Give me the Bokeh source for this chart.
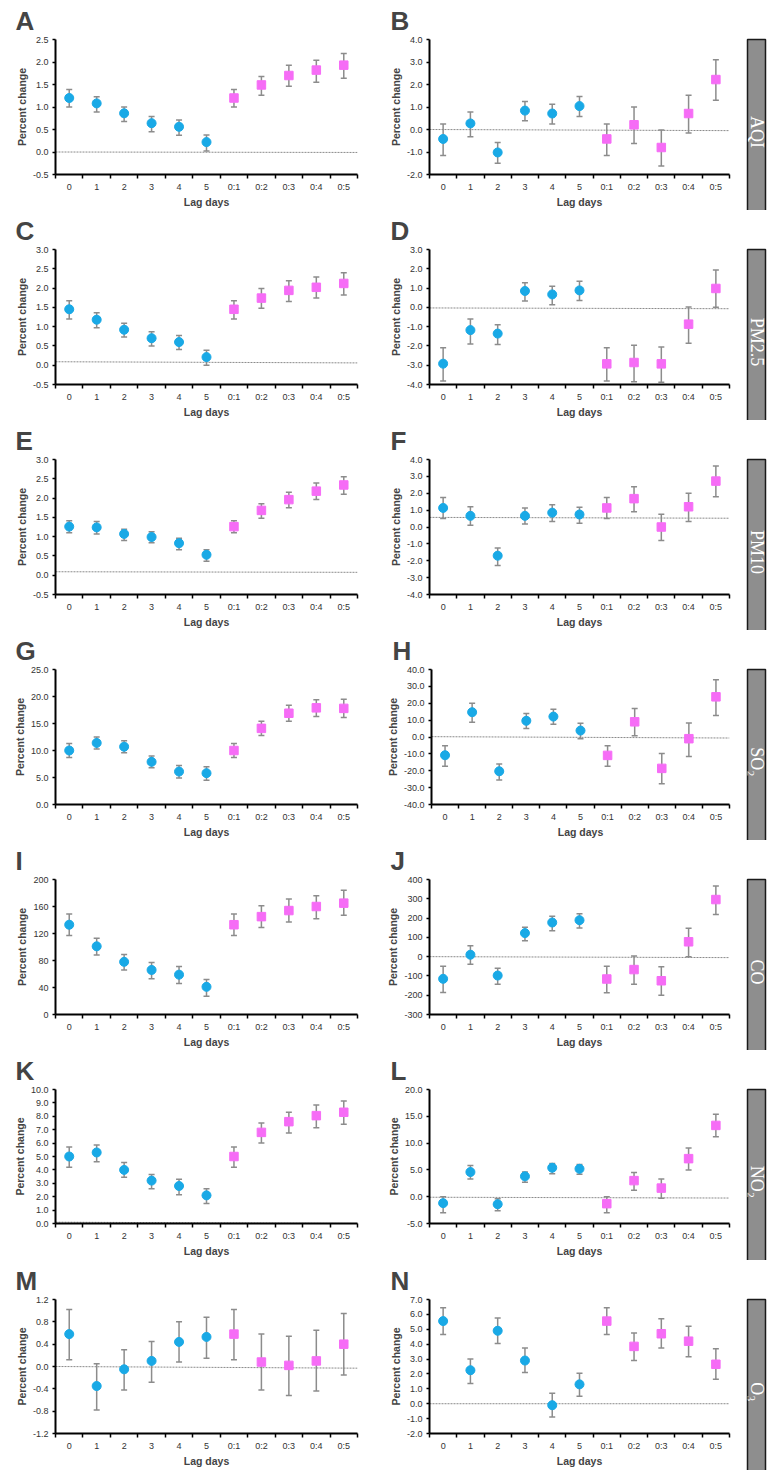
import numpy as np
from bokeh.plotting import figure
from bokeh.models import (ColumnDataSource, Whisker, TeeHead, FixedTicker, Range1d, Label,
                          NumeralTickFormatter, BoxAnnotation)
from bokeh.layouts import row, column
from bokeh.embed import file_html
from bokeh.resources import INLINE

# ---------------- data ----------------
lag_labels = ["0", "1", "2", "3", "4", "5", "0:1", "0:2", "0:3", "0:4", "0:5"]
n_single = 6  # single-day lags (blue circles); the rest are cumulative (pink squares)
panel_letters = ["A", "B", "C", "D", "E", "F", "G", "H", "I", "J", "K", "L", "M", "N"]
pollutants = ["AQI", "PM2.5", "PM10", "SO\u2082", "CO", "NO\u2082", "O\u2083"]

a_est = [1.20, 1.08, 0.86, 0.64, 0.56, 0.22, 1.20, 1.49, 1.70, 1.82, 1.93]
a_lo = [1.00, 0.89, 0.68, 0.45, 0.37, 0.02, 1.00, 1.26, 1.46, 1.55, 1.64]
a_hi = [1.39, 1.23, 1.00, 0.79, 0.71, 0.38, 1.39, 1.68, 1.93, 2.04, 2.19]

b_est = [-0.42, 0.27, -1.02, 0.84, 0.71, 1.04, -0.42, 0.21, -0.80, 0.71, 2.22]
b_lo = [-1.15, -0.32, -1.50, 0.39, 0.25, 0.58, -1.15, -0.62, -1.62, -0.15, 1.30]
b_hi = [0.25, 0.78, -0.58, 1.25, 1.12, 1.47, 0.25, 1.00, -0.02, 1.52, 3.10]

c_est = [1.45, 1.18, 0.92, 0.70, 0.60, 0.21, 1.45, 1.74, 1.94, 2.02, 2.12]
c_lo = [1.20, 0.97, 0.73, 0.50, 0.41, 0.00, 1.20, 1.48, 1.65, 1.74, 1.82]
c_hi = [1.67, 1.36, 1.09, 0.87, 0.77, 0.39, 1.67, 1.99, 2.19, 2.29, 2.40]

d_est = [-2.92, -1.18, -1.36, 0.85, 0.67, 0.88, -2.93, -2.86, -2.93, -0.87, 0.98]
d_lo = [-3.82, -1.90, -1.92, 0.33, 0.14, 0.36, -3.82, -3.86, -3.88, -1.86, 0.00]
d_hi = [-2.10, -0.60, -0.90, 1.28, 1.10, 1.35, -2.10, -1.96, -2.05, 0.02, 1.94]

e_est = [1.26, 1.24, 1.07, 0.99, 0.83, 0.53, 1.26, 1.68, 1.96, 2.18, 2.34]
e_lo = [1.10, 1.07, 0.90, 0.84, 0.66, 0.36, 1.10, 1.48, 1.75, 1.96, 2.10]
e_hi = [1.41, 1.39, 1.19, 1.13, 0.96, 0.66, 1.41, 1.85, 2.15, 2.39, 2.55]

f_est = [1.13, 0.66, -1.70, 0.66, 0.85, 0.74, 1.13, 1.68, 0.00, 1.20, 2.72]
f_lo = [0.50, 0.10, -2.28, 0.18, 0.32, 0.22, 0.50, 0.90, -0.80, 0.32, 1.80]
f_hi = [1.75, 1.20, -1.25, 1.12, 1.32, 1.17, 1.75, 2.38, 0.76, 2.00, 3.62]

g_est = [10.0, 11.4, 10.7, 7.9, 6.1, 5.8, 10.0, 14.1, 16.9, 17.9, 17.8]
g_lo = [8.7, 10.3, 9.6, 6.8, 4.9, 4.5, 8.7, 12.8, 15.4, 16.3, 16.1]
g_hi = [11.3, 12.5, 11.8, 9.0, 7.2, 7.0, 11.3, 15.4, 18.4, 19.4, 19.5]

h_est = [-10.8, 14.7, -20.3, 9.6, 12.1, 3.8, -10.9, 9.0, -18.6, -1.0, 23.8]
h_lo = [-17.3, 8.7, -25.5, 5.0, 7.6, -1.0, -17.3, 0.8, -27.7, -11.5, 12.7]
h_hi = [-5.2, 20.0, -16.0, 14.0, 16.4, 8.1, -5.2, 16.9, -9.8, 8.3, 34.0]

i_est = [133, 101, 78, 66, 59, 41, 133, 145, 154, 160, 165]
i_lo = [117, 88, 66, 53, 46, 27, 117, 129, 137, 142, 147]
i_hi = [149, 113, 89, 77, 71, 52, 149, 161, 171, 176, 184]

j_est = [-115, 10, -98, 122, 177, 189, -116, -67, -125, 77, 296]
j_lo = [-186, -40, -143, 82, 134, 149, -187, -143, -200, 0, 218]
j_hi = [-50, 57, -60, 152, 210, 222, -50, 3, -52, 147, 366]

k_est = [5.0, 5.3, 4.0, 3.2, 2.8, 2.1, 5.0, 6.8, 7.6, 8.05, 8.3]
k_lo = [4.2, 4.6, 3.45, 2.6, 2.15, 1.5, 4.2, 6.0, 6.75, 7.15, 7.4]
k_hi = [5.7, 5.85, 4.55, 3.65, 3.3, 2.6, 5.7, 7.5, 8.3, 8.85, 9.15]

l_est = [-1.2, 4.6, -1.4, 3.8, 5.4, 5.2, -1.3, 3.0, 1.6, 7.1, 13.3]
l_lo = [-3.0, 3.3, -2.6, 2.7, 4.3, 4.2, -3.0, 1.2, -0.3, 5.0, 11.2]
l_hi = [0.0, 5.8, -0.4, 4.6, 6.2, 6.0, 0.0, 4.5, 3.3, 9.1, 15.4]

m_est = [0.58, -0.35, -0.05, 0.10, 0.44, 0.53, 0.58, 0.08, 0.02, 0.10, 0.40]
m_lo = [0.12, -0.78, -0.42, -0.28, 0.08, 0.15, 0.12, -0.42, -0.52, -0.44, -0.15]
m_hi = [1.02, 0.05, 0.30, 0.45, 0.80, 0.88, 1.02, 0.58, 0.54, 0.65, 0.95]

n_est = [5.55, 2.25, 4.90, 2.90, -0.10, 1.30, 5.55, 3.85, 4.70, 4.20, 2.65]
n_lo = [4.65, 1.35, 4.05, 2.10, -0.90, 0.50, 4.65, 2.90, 3.75, 3.15, 1.65]
n_hi = [6.45, 3.00, 5.75, 3.75, 0.70, 2.05, 6.45, 4.75, 5.70, 5.20, 3.70]

# y-axis: (min, max, step, tick format)
y_axes = [
    (-0.5, 2.5, 0.5, "0.0"), (-2.0, 4.0, 1.0, "0.0"),
    (-0.5, 3.0, 0.5, "0.0"), (-4.0, 3.0, 1.0, "0.0"),
    (-0.5, 3.0, 0.5, "0.0"), (-4.0, 4.0, 1.0, "0.0"),
    (0.0, 25.0, 5.0, "0.0"), (-40.0, 40.0, 10.0, "0.0"),
    (0, 200, 40, "0"), (-300, 400, 100, "0"),
    (0.0, 10.0, 1.0, "0.0"), (-5.0, 20.0, 5.0, "0.0"),
    (-1.2, 1.2, 0.4, "0.0"), (-2.0, 7.0, 1.0, "0.0"),
]
# dashed reference line level at left and right end of each panel
ref_left = [0.0, 0.0, 0.09, -0.03, 0.09, 0.57, 0.0, 0.2, 0.0, 0.0, 0.1, -0.1, 0.0, 0.0]
ref_right = [-0.01, -0.05, 0.06, -0.07, 0.075, 0.52, 0.0, -0.6, 0.0, -5.0, 0.0, -0.25, -0.03, 0.0]

estimates = [a_est, b_est, c_est, d_est, e_est, f_est, g_est, h_est, i_est, j_est, k_est, l_est, m_est, n_est]
lows = [a_lo, b_lo, c_lo, d_lo, e_lo, f_lo, g_lo, h_lo, i_lo, j_lo, k_lo, l_lo, m_lo, n_lo]
highs = [a_hi, b_hi, c_hi, d_hi, e_hi, f_hi, g_hi, h_hi, i_hi, j_hi, k_hi, l_hi, m_hi, n_hi]

# ---------------- layout / styling ----------------
BLUE = "#19a9e6"
PINK = "#f66cf6"
ERR = "#8c8c8c"
FONT = "Liberation Sans"
ROW_H = 210
FRAME_H = 138
row_frame_top = [38, 38, 37, 36, 36, 35, 35]


def make_panel(idx, left_col, top):
    ymin, ymax, step, fmt = y_axes[idx]
    n = len(lag_labels)
    if left_col:
        w, bl, br = 383, 55, 26
        letter_x = 15
        box = (6, 362)
    else:
        w, bl, br = 362, 46, 16
        letter_x = 7
        box = (2, 356)
    p = figure(width=w, height=ROW_H, output_backend="svg", toolbar_location=None,
               x_range=Range1d(-0.5, n - 0.5), y_range=Range1d(ymin, ymax),
               min_border_left=bl, min_border_right=br, min_border_top=top,
               min_border_bottom=ROW_H - top - FRAME_H,
               title=panel_letters[idx])
    p.title.text_font = FONT
    p.title.text_font_size = "26px"
    p.title.text_font_style = "bold"
    p.title.offset = -(bl - letter_x)
    p.title.standoff = 7
    p.outline_line_color = None
    p.grid.visible = False
    p.background_fill_color = "white"
    p.border_fill_color = "white"

    # faint panel frame
    p.add_layout(BoxAnnotation(left=box[0], right=box[1], top=27, bottom=206,
                               left_units="canvas", right_units="canvas",
                               top_units="canvas", bottom_units="canvas",
                               fill_alpha=0, line_color="#dedede", line_width=1,
                               level="underlay", editable=False))

    xs = list(range(n))
    src = ColumnDataSource(dict(x=xs, est=estimates[idx], lo=lows[idx], hi=highs[idx]))

    # dashed reference line
    p.segment(x0=[-0.5], y0=[ref_left[idx]], x1=[n - 0.5], y1=[ref_right[idx]],
              line_color="#8a8a8a", line_width=1, line_dash="2 1")

    wk = Whisker(source=src, base="x", lower="lo", upper="hi", line_color=ERR, line_width=1.5,
                 upper_head=TeeHead(size=6, line_color=ERR, line_width=1.5),
                 lower_head=TeeHead(size=6, line_color=ERR, line_width=1.5))
    p.add_layout(wk)

    s1 = ColumnDataSource(dict(x=xs[:n_single], y=estimates[idx][:n_single]))
    s2 = ColumnDataSource(dict(x=xs[n_single:], y=estimates[idx][n_single:]))
    p.scatter("x", "y", source=s1, marker="circle", size=9, fill_color=BLUE, line_color=BLUE)
    p.scatter("x", "y", source=s2, marker="square", size=8.5, fill_color=PINK, line_color=PINK)

    # x axis
    xa = p.xaxis[0]
    xa.ticker = FixedTicker(ticks=xs, minor_ticks=[i - 0.5 for i in range(n + 1)])
    xa.major_label_overrides = {i: lab for i, lab in enumerate(lag_labels)}
    xa.major_tick_out = 0
    xa.major_tick_in = 0
    xa.minor_tick_out = 4
    xa.minor_tick_in = 0
    xa.minor_tick_line_color = "black"
    xa.minor_tick_line_width = 1.5
    xa.axis_line_width = 2
    xa.axis_line_color = "black"
    xa.major_label_standoff = 3
    xa.major_label_text_font = FONT
    xa.major_label_text_font_size = "9px"
    xa.major_label_text_color = "#333333"
    xa.axis_label = "Lag days"
    xa.axis_label_text_font = FONT
    xa.axis_label_text_font_size = "10.5px"
    xa.axis_label_text_font_style = "bold"
    xa.axis_label_standoff = 1

    # y axis
    ya = p.yaxis[0]
    nt = int(round((ymax - ymin) / step))
    ya.ticker = FixedTicker(ticks=[round(ymin + k * step, 6) for k in range(nt + 1)], minor_ticks=[])
    ya.formatter = NumeralTickFormatter(format=fmt)
    ya.major_tick_out = 3
    ya.major_tick_in = 0
    ya.major_tick_line_width = 1.5
    ya.minor_tick_out = 0
    ya.axis_line_width = 2
    ya.axis_line_color = "black"
    ya.major_label_standoff = 4
    ya.major_label_text_font = FONT
    ya.major_label_text_font_size = "9px"
    ya.major_label_text_color = "#333333"
    ya.axis_label = "Percent change"
    ya.axis_label_text_font = FONT
    ya.axis_label_text_font_size = "10.5px"
    ya.axis_label_text_font_style = "bold"
    ya.axis_label_standoff = 2
    return p


def make_tag(name):
    p = figure(frame_width=18, frame_height=185, output_backend="svg", toolbar_location=None,
               x_range=Range1d(0, 1), y_range=Range1d(0, 1), x_axis_type=None, y_axis_type=None,
               min_border_left=2, min_border_right=2, min_border_top=25, min_border_bottom=0,
               title=None)
    p.grid.visible = False
    p.background_fill_color = "#8e8e8e"
    p.border_fill_color = "white"
    p.outline_line_color = "#1a1a1a"
    p.outline_line_width = 1.5
    p.add_layout(Label(x=0.5, y=0.5, text=name, angle=-np.pi / 2, text_align="center",
                       text_baseline="middle", text_color="white", text_font="Liberation Serif",
                       text_font_size="18px"))
    return p


rows = []
for r in range(7):
    top = row_frame_top[r]
    rows.append(row(make_panel(2 * r, True, top), make_panel(2 * r + 1, False, top),
                    make_tag(pollutants[r])))
layout = column(*rows)

open("out.html", "w").write(file_html(layout, INLINE))
